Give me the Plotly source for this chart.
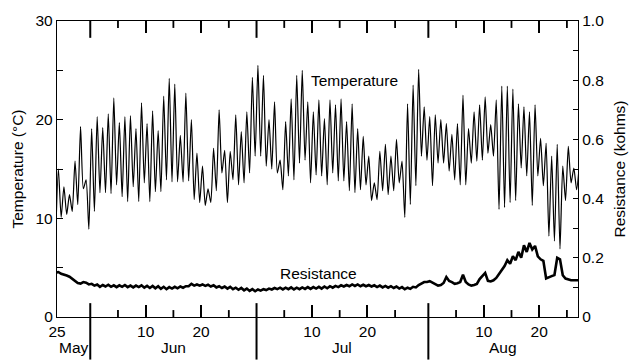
import plotly.graph_objects as go

# ---------------- data ----------------
DAY0 = 145  # day of year of 25 May (first day shown)

# daily minimum (night) and maximum (afternoon) temperature, degC, from 25 May
temp_min = [8.0, 10.1, 10.4, 10.7, 11.4, 13.0, 8.9, 10.7, 12.6, 12.6,
            12.5, 13.4, 12.2, 11.7, 13.2, 11.7, 13.6, 11.7, 12.7, 12.7,
            13.9, 13.7, 13.7, 13.7, 13.8, 11.9, 11.6, 11.3, 11.6, 12.8,
            14.6, 11.6, 13.9, 13.4, 13.6, 14.6, 16.3, 16.3, 15.3, 15.0,
            14.6, 12.9, 14.3, 13.9, 15.6, 15.9, 13.6, 14.4, 14.3, 13.4,
            14.6, 13.8, 13.8, 12.8, 12.6, 12.9, 13.4, 11.8, 11.9, 12.8,
            12.4, 12.8, 13.6, 10.1, 11.4, 13.3, 16.3, 15.9, 13.3, 15.6,
            15.6, 14.8, 13.9, 13.4, 13.4, 15.6, 15.8, 15.9, 16.6, 16.3,
            10.9, 11.1, 11.6, 11.8, 15.1, 14.3, 11.3, 14.3, 13.3, 8.2,
            7.7, 6.9, 11.8, 13.6, 12.9]
temp_max = [15.0, 13.2, 12.4, 15.8, 19.3, 13.9, 19.1, 20.3, 19.2, 20.6,
            22.2, 19.7, 20.3, 20.4, 19.1, 21.7, 19.6, 20.9, 18.9, 22.4,
            24.2, 23.6, 18.4, 22.7, 20.0, 16.6, 15.3, 13.0, 17.1, 21.0,
            16.9, 16.8, 20.5, 18.8, 20.8, 24.3, 25.5, 24.5, 20.0, 21.8,
            15.9, 19.8, 22.1, 24.5, 25.0, 21.8, 20.8, 22.0, 20.1, 22.0,
            21.5, 22.1, 19.8, 21.6, 19.1, 18.3, 16.3, 13.6, 16.8, 17.5,
            16.3, 18.0, 15.8, 21.6, 23.5, 25.1, 21.3, 20.3, 20.5, 20.0,
            19.6, 18.5, 19.6, 22.5, 19.1, 20.8, 21.5, 22.3, 19.5, 22.0,
            23.4, 23.4, 23.1, 21.6, 21.3, 20.8, 21.5, 18.1, 17.6, 16.3,
            17.5, 15.3, 17.3, 15.1, 15.5]

# resistance, kohms, morning / afternoon value of each day from 25 May
res_am = [0.150, 0.146, 0.140, 0.130, 0.115, 0.118, 0.110, 0.106, 0.102, 0.103,
          0.102, 0.101, 0.102, 0.101, 0.100, 0.101, 0.099, 0.098, 0.097, 0.095,
          0.094, 0.096, 0.097, 0.099, 0.104, 0.106, 0.106, 0.105, 0.103, 0.100,
          0.098, 0.096, 0.094, 0.092, 0.090, 0.088, 0.087, 0.089, 0.091, 0.093,
          0.094, 0.093, 0.094, 0.093, 0.094, 0.095, 0.095, 0.096, 0.096, 0.097,
          0.099, 0.101, 0.103, 0.104, 0.105, 0.104, 0.104, 0.103, 0.101, 0.100,
          0.099, 0.098, 0.096, 0.094, 0.095, 0.100, 0.112, 0.118, 0.116, 0.106,
          0.115, 0.122, 0.112, 0.118, 0.118, 0.106, 0.112, 0.138, 0.122, 0.124,
          0.145, 0.172, 0.180, 0.192, 0.200, 0.220, 0.228, 0.205, 0.190, 0.135,
          0.142, 0.195, 0.130, 0.124, 0.124]
res_pm = [0.152, 0.144, 0.136, 0.124, 0.113, 0.116, 0.112, 0.110, 0.108, 0.109,
          0.107, 0.107, 0.108, 0.106, 0.106, 0.107, 0.105, 0.105, 0.104, 0.102,
          0.101, 0.102, 0.103, 0.104, 0.112, 0.110, 0.110, 0.109, 0.107, 0.104,
          0.103, 0.102, 0.099, 0.098, 0.096, 0.094, 0.093, 0.094, 0.096, 0.098,
          0.099, 0.099, 0.100, 0.099, 0.100, 0.101, 0.101, 0.102, 0.103, 0.104,
          0.105, 0.107, 0.108, 0.110, 0.110, 0.109, 0.108, 0.107, 0.106, 0.105,
          0.104, 0.103, 0.101, 0.099, 0.102, 0.108, 0.118, 0.121, 0.110, 0.108,
          0.135, 0.118, 0.114, 0.143, 0.110, 0.108, 0.128, 0.149, 0.120, 0.132,
          0.158, 0.192, 0.205, 0.220, 0.242, 0.250, 0.240, 0.195, 0.130, 0.138,
          0.200, 0.141, 0.126, 0.124, 0.124]

# axis ticks (day of year)
month_bounds = [151, 181, 212]          # long ticks between months
month_names = ["May", "Jun", "Jul", "Aug"]
day_ticks = [145, 161, 171, 191, 201, 222, 232]
day_labels = ["25", "10", "20", "10", "20", "10", "20"]
day_minor = [156, 166, 176, 186, 196, 206, 217, 227, 237]
x_range = [145, 239]

temp_ticks = [0, 5, 10, 15, 20, 25, 30]
temp_labels = ["0", "", "10", "", "20", "", "30"]
res_ticks = [0, 0.1, 0.2, 0.3, 0.4, 0.5, 0.6, 0.7, 0.8, 0.9, 1.0]
res_labels = ["0", "", "0.2", "", "0.4", "", "0.6", "", "0.8", "", "1.0"]

# ---------------- build series ----------------
t_temp, temp = [], []
for k, (lo, hi) in enumerate(zip(temp_min, temp_max)):
    t_temp += [DAY0 + k - 0.25, DAY0 + k + 0.25]
    temp += [lo, hi]

t_res, res = [], []
for k, (a, b) in enumerate(zip(res_am, res_pm)):
    t_res += [DAY0 + k - 0.25, DAY0 + k + 0.25]
    res += [a, b]

FONT = "Liberation Sans, Arial, Helvetica, sans-serif"
FS = 15.5

fig = go.Figure()
fig.add_trace(go.Scatter(x=t_temp, y=temp, mode="lines",
                         line=dict(color="black", width=1.2, shape="spline",
                                   smoothing=0.6),
                         xaxis="x", yaxis="y", hoverinfo="skip"))
fig.add_trace(go.Scatter(x=t_res, y=res, mode="lines",
                         line=dict(color="black", width=2.6), xaxis="x", yaxis="y2",
                         hoverinfo="skip"))

common = dict(ticks="inside", tickcolor="black", tickmode="array",
              showgrid=False, zeroline=False, linecolor="black", linewidth=1.3,
              showline=True)

fig.update_layout(
    width=637, height=360,
    margin=dict(l=57, r=45, t=18, b=43),
    paper_bgcolor="white", plot_bgcolor="white",
    showlegend=False,
    font=dict(family=FONT, size=FS, color="black"),
    xaxis=dict(range=x_range, ticklen=12, tickwidth=1.8, mirror="ticks",
               tickvals=day_ticks, ticktext=day_labels, **common),
    yaxis=dict(range=[0, 30], ticklen=6, tickwidth=1,
               tickvals=temp_ticks, ticktext=temp_labels,
               title=dict(text="Temperature (°C)", font=dict(size=FS), standoff=8),
               **common),
    yaxis2=dict(range=[0, 1.0], overlaying="y", side="right",
                ticklen=5, tickwidth=1, tickvals=res_ticks, ticktext=res_labels,
                title=dict(text="Resistance (kohms)", font=dict(size=FS), standoff=10),
                **common),
)

plot_h = 360 - 18 - 43
# short 5/15/25 ticks, bottom and top
for d in day_minor:
    fig.add_shape(type="line", xref="x", yref="paper", x0=d, x1=d,
                  y0=0, y1=7 / plot_h, line=dict(color="black", width=1.8),
                  layer="above")
    fig.add_shape(type="line", xref="x", yref="paper", x0=d, x1=d,
                  y0=1, y1=1 - 7 / plot_h, line=dict(color="black", width=1.8),
                  layer="above")

# long month-boundary ticks (bottom one extends to the foot of the figure)
for b in month_bounds:
    fig.add_shape(type="line", xref="x", yref="paper", x0=b, x1=b,
                  y0=-43 / plot_h, y1=14 / plot_h,
                  line=dict(color="black", width=2), layer="above")
    fig.add_shape(type="line", xref="x", yref="paper", x0=b, x1=b,
                  y0=1, y1=1 - 17 / plot_h,
                  line=dict(color="black", width=2), layer="above")

# month names centred in each month
edges = [x_range[0]] + month_bounds + [x_range[1]]
for name, a, b in zip(month_names, edges[:-1], edges[1:]):
    fig.add_annotation(x=(a + b) / 2, y=0, xref="x", yref="paper",
                       text=name, showarrow=False, yshift=-30,
                       font=dict(size=FS), yanchor="middle")

fig.add_annotation(x=198.7, y=24.0, xref="x", yref="y", text="Temperature",
                   showarrow=False, font=dict(size=FS))
fig.add_annotation(x=192.2, y=4.45, xref="x", yref="y", text="Resistance",
                   showarrow=False, font=dict(size=FS))

fig.write_html("out.html")
